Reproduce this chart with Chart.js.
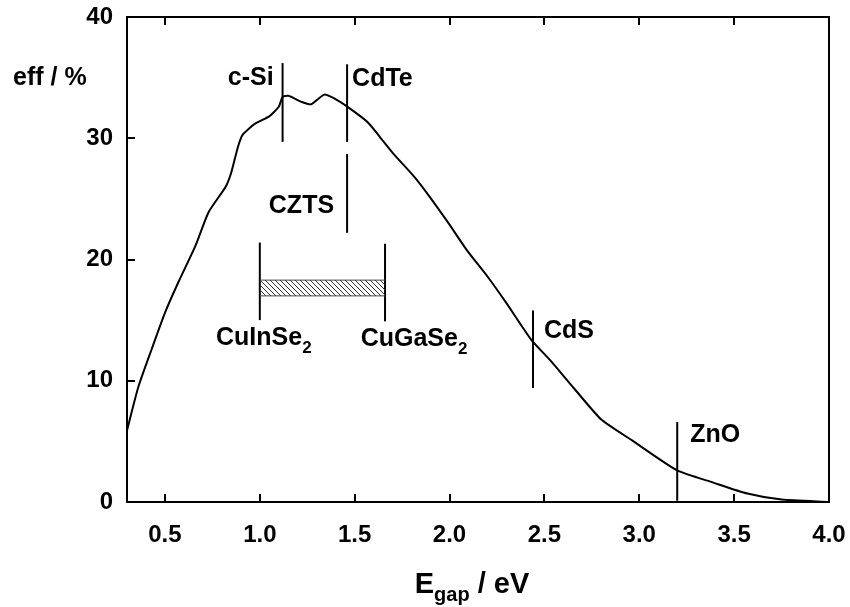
<!DOCTYPE html>
<html>
<head>
<meta charset="utf-8">
<script src="https://cdn.jsdelivr.net/npm/chart.js@4.4.1/dist/chart.umd.min.js"></script>
<style>
  html, body { margin: 0; padding: 0; background: #fff; }
  #wrap { width: 850px; height: 607px; }
</style>
</head>
<body>
<div id="wrap"><canvas id="sq-chart" width="850" height="607"></canvas></div>
<script>
// limiting efficiency vs band gap
var gapE = [0.30, 0.36, 0.43, 0.50, 0.57, 0.66, 0.73, 0.82, 0.85, 0.885, 0.91, 0.975, 1.05, 1.10, 1.12, 1.15, 1.22, 1.27, 1.34, 1.39,
            1.47, 1.57, 1.633, 1.70, 1.81, 1.88, 1.99, 2.09, 2.20, 2.30, 2.43, 2.53, 2.66, 2.80, 2.96, 3.20, 3.39, 3.57, 3.75, 4.00];
var effPct = [5.9, 9.5, 12.6, 15.6, 18.1, 21.1, 23.9, 26.0, 27.2, 29.3, 30.3, 31.2, 31.8, 32.6, 33.4, 33.5, 33.0, 32.8, 33.6, 33.3,
              32.5, 31.3, 30.1, 28.8, 26.9, 25.5, 23.1, 20.8, 18.6, 16.4, 13.4, 11.7, 9.3, 6.8, 5.1, 2.6, 1.6, 0.7, 0.2, 0.0];

// material markers: band gap and the span of the vertical tick
var materials = ["c-Si", "CdTe", "CZTS", "CuInSe2", "CuGaSe2", "CdS", "ZnO"];
var matGap    = [1.12, 1.46, 1.46, 1.00, 1.66, 2.44, 3.20];
var matLow    = [29.7, 29.7, 22.2, 15.0, 14.9, 9.4, 0.1];
var matHigh   = [36.2, 36.1, 28.7, 21.4, 21.3, 15.8, 6.6];

// Cu(In,Ga)Se2 range bar
var cigsGap  = [1.00, 1.66];
var cigsBand = [17.0, 18.3];

var xTicks = [0.5, 1.0, 1.5, 2.0, 2.5, 3.0, 3.5, 4.0];
var yTicks = [0, 10, 20, 30, 40];

var FONT = '"Liberation Sans", Arial, Helvetica, sans-serif';

// hatch pattern for the range bar
function hatch() {
  var c = document.createElement('canvas');
  c.width = 5; c.height = 5;
  var g = c.getContext('2d');
  g.strokeStyle = '#333';
  g.lineWidth = 1;
  g.beginPath();
  g.moveTo(-1, -1); g.lineTo(6, 6);
  g.moveTo(-1, 4); g.lineTo(1, 6);
  g.moveTo(4, -1); g.lineTo(6, 1);
  g.stroke();
  return g.createPattern(c, 'repeat');
}

var datasets = [
  {
    data: cigsGap.map(function (e) { return { x: e, y: cigsBand[0] }; }),
    borderColor: '#444', borderWidth: 1, pointRadius: 0, fill: false
  },
  {
    data: cigsGap.map(function (e) { return { x: e, y: cigsBand[1] }; }),
    borderColor: '#444', borderWidth: 1, pointRadius: 0,
    fill: '-1', backgroundColor: hatch()
  },
  {
    data: gapE.map(function (e, i) { return { x: e, y: effPct[i] }; }),
    borderColor: '#000', borderWidth: 2, pointRadius: 0, tension: 0.2, fill: false
  }
];
materials.forEach(function (m, i) {
  datasets.push({
    label: m,
    data: [{ x: matGap[i], y: matLow[i] }, { x: matGap[i], y: matHigh[i] }],
    borderColor: '#000', borderWidth: 2, pointRadius: 0, fill: false
  });
});

// where each label sits relative to its marker (pixels)
var place = {
  'c-Si':    { at: 'hi', align: 'right',  dx: -9,  dy: 22 },
  'CdTe':    { at: 'hi', align: 'left',   dx: 5,   dy: 22 },
  'CZTS':    { at: 'hi', align: 'right',  dx: -13, dy: 59 },
  'CuInSe2': { at: 'lo', align: 'center', dx: 4,   dy: 25 },
  'CuGaSe2': { at: 'lo', align: 'center', dx: 29,  dy: 25 },
  'CdS':     { at: 'hi', align: 'left',   dx: 11,  dy: 28 },
  'ZnO':     { at: 'hi', align: 'left',   dx: 13,  dy: 20 }
};

function drawSub(ctx, main, sub, tail, x, y, align, size, subSize, subDrop) {
  ctx.font = 'bold ' + size + 'px ' + FONT;
  var w1 = ctx.measureText(main).width;
  var w3 = tail ? ctx.measureText(tail).width : 0;
  ctx.font = 'bold ' + subSize + 'px ' + FONT;
  var w2 = sub ? ctx.measureText(sub).width : 0;
  var total = w1 + w2 + w3;
  var x0 = align === 'right' ? x - total : (align === 'center' ? x - total / 2 : x);
  ctx.textAlign = 'left';
  ctx.textBaseline = 'alphabetic';
  ctx.font = 'bold ' + size + 'px ' + FONT;
  ctx.fillText(main, x0, y);
  if (sub) {
    ctx.font = 'bold ' + subSize + 'px ' + FONT;
    ctx.fillText(sub, x0 + w1, y + subDrop);
  }
  if (tail) {
    ctx.font = 'bold ' + size + 'px ' + FONT;
    ctx.fillText(tail, x0 + w1 + w2, y);
  }
}

var decor = {
  id: 'decor',
  afterDraw: function (chart) {
    var ctx = chart.ctx, a = chart.chartArea;
    var xs = chart.scales.x, ys = chart.scales.y;
    ctx.save();
    ctx.strokeStyle = '#000';
    ctx.fillStyle = '#000';
    // frame
    ctx.lineWidth = 2;
    ctx.strokeRect(a.left, a.top, a.right - a.left, a.bottom - a.top);
    // inward ticks
    ctx.beginPath();
    xTicks.forEach(function (v) {
      var px = Math.round(xs.getPixelForValue(v));
      ctx.moveTo(px, a.bottom); ctx.lineTo(px, a.bottom - 8);
      ctx.moveTo(px, a.top); ctx.lineTo(px, a.top + 8);
    });
    yTicks.forEach(function (v) {
      var py = Math.round(ys.getPixelForValue(v));
      ctx.moveTo(a.left, py); ctx.lineTo(a.left + 8, py);
    });
    ctx.stroke();

    // material labels
    materials.forEach(function (m, i) {
      var p = place[m];
      var px = xs.getPixelForValue(matGap[i]) + p.dx;
      var py = ys.getPixelForValue(p.at === 'hi' ? matHigh[i] : matLow[i]) + p.dy;
      var sub = /2$/.test(m) ? '2' : '';
      var main = sub ? m.slice(0, -1) : m;
      drawSub(ctx, main, sub, '', px, py, p.align, 25, 17, 8);
    });

    // axis titles
    drawSub(ctx, 'E', 'gap', ' / eV', (a.left + a.right) / 2 - 6, 593, 'center', 29, 20, 8);
    drawSub(ctx, 'eff / %', '', '', 13, 85, 'left', 25, 17, 0);
    ctx.restore();
  }
};

new Chart(document.getElementById('sq-chart'), {
  type: 'line',
  data: { datasets: datasets },
  options: {
    responsive: false,
    animation: false,
    layout: { padding: { left: 0, top: 17, right: 21, bottom: 0 } },
    plugins: { legend: { display: false }, tooltip: { enabled: false } },
    scales: {
      x: {
        type: 'linear', min: 0.3, max: 4.0,
        grid: { display: false, drawTicks: false },
        border: { display: false },
        afterBuildTicks: function (s) { s.ticks = xTicks.map(function (v) { return { value: v }; }); },
        afterFit: function (s) { s.height = 105; s.paddingLeft = 0; s.paddingRight = 0; },
        ticks: {
          padding: 19, color: '#000',
          font: { family: FONT, size: 24, weight: 'bold' },
          callback: function (v) { return Number(v).toFixed(1); }
        }
      },
      y: {
        min: 0, max: 40,
        grid: { display: false, drawTicks: false },
        border: { display: false },
        afterBuildTicks: function (s) { s.ticks = yTicks.map(function (v) { return { value: v }; }); },
        afterFit: function (s) { s.width = 127; s.paddingTop = 0; s.paddingBottom = 0; },
        ticks: {
          padding: 14, color: '#000',
          font: { family: FONT, size: 24, weight: 'bold' }
        }
      }
    }
  },
  plugins: [decor]
});
</script>
</body>
</html>
